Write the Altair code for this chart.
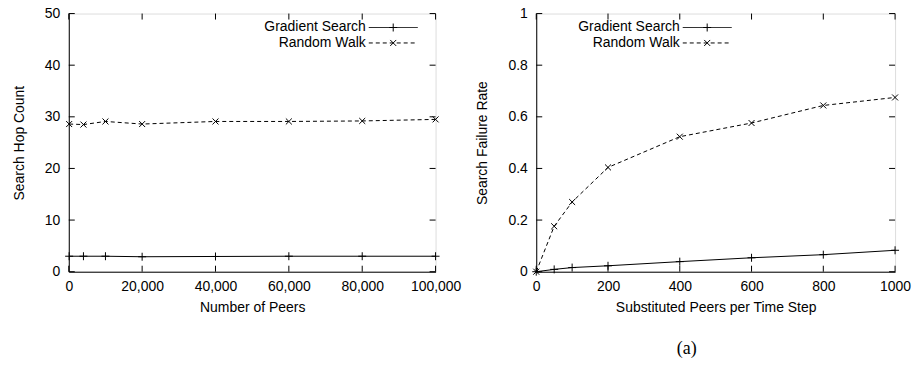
import altair as alt
import pandas as pd

# ---- data ----
peers = [100, 4000, 10000, 20000, 40000, 60000, 80000, 100000]
hops_gradient = [3.0, 3.0, 3.0, 2.9, 2.95, 3.0, 3.0, 3.0]
hops_random = [28.6, 28.5, 29.1, 28.6, 29.1, 29.1, 29.2, 29.5]

subst = [0, 50, 100, 200, 400, 600, 800, 1000]
fail_gradient = [0.0, 0.009, 0.016, 0.023, 0.039, 0.054, 0.066, 0.083]
fail_random = [0.0, 0.176, 0.27, 0.404, 0.523, 0.576, 0.644, 0.675]

left_xticks = [0, 20000, 40000, 60000, 80000, 100000]
left_yticks = [0, 10, 20, 30, 40, 50]
right_xticks = [0, 200, 400, 600, 800, 1000]
right_yticks = [0, 0.2, 0.4, 0.6, 0.8, 1.0]

series = ["Gradient Search", "Random Walk"]

FONT = "Liberation Sans"
FS = 14
W1, W2, H = 368, 360, 259
TICK = 6
PLUS = "M-1,0L1,0M0,-1L0,1"
XMARK = "M-1,-1L1,1M-1,1L1,-1"


def panel(xs, g, r, xticks, yticks, xname, yname, xtitle, ytitle, xfmt, yfmt,
          xdom, ydom, W, leg_right):
    df = pd.DataFrame({xname: xs * 2, yname: g + r,
                       "series": [series[0]] * len(xs) + [series[1]] * len(xs)})
    xs_ = alt.Scale(domain=xdom, nice=False, zero=False)
    ys_ = alt.Scale(domain=ydom, nice=False, zero=False)
    xax = alt.Axis(title=xtitle, values=xticks, format=xfmt, ticks=False, tickSize=0,
                   grid=False, labelFont=FONT, labelFontSize=FS, labelColor="black",
                   titleFont=FONT, titleFontSize=FS, titleFontWeight="normal",
                   titleColor="black", labelPadding=8, titlePadding=7,
                   domainColor="black", labelFlush=False)
    yax = alt.Axis(title=ytitle, values=yticks, format=yfmt, ticks=False, tickSize=0,
                   grid=False, labelFont=FONT, labelFontSize=FS, labelColor="black",
                   titleFont=FONT, titleFontSize=FS, titleFontWeight="normal",
                   titleColor="black", labelPadding=9, titlePadding=18,
                   domainColor="black", labelFlush=False)

    gdf = df[df.series == series[0]]
    rdf = df[df.series == series[1]]

    gline = alt.Chart(gdf).mark_line(color="black", strokeWidth=1).encode(
        x=alt.X(f"{xname}:Q", scale=xs_, axis=xax),
        y=alt.Y(f"{yname}:Q", scale=ys_, axis=yax))
    gpts = alt.Chart(gdf).mark_point(shape=PLUS, size=64, color="black",
                                     strokeWidth=1, filled=False, opacity=1).encode(
        x=alt.X(f"{xname}:Q", scale=xs_), y=alt.Y(f"{yname}:Q", scale=ys_))
    rline = alt.Chart(rdf).mark_line(color="black", strokeWidth=1,
                                     strokeDash=[4, 3]).encode(
        x=alt.X(f"{xname}:Q", scale=xs_), y=alt.Y(f"{yname}:Q", scale=ys_))
    rpts = alt.Chart(rdf).mark_point(shape=XMARK, size=36, color="black",
                                     strokeWidth=1, filled=False, opacity=1).encode(
        x=alt.X(f"{xname}:Q", scale=xs_), y=alt.Y(f"{yname}:Q", scale=ys_))

    # inward ticks (gnuplot style), on all four sides
    xt = pd.DataFrame({xname: xticks})
    yt = pd.DataFrame({yname: yticks})
    xb = alt.Chart(xt).mark_rule(color="black", strokeWidth=1).encode(
        x=alt.X(f"{xname}:Q", scale=xs_), y=alt.value(H), y2=alt.value(H - TICK))
    xtp = alt.Chart(xt).mark_rule(color="black", strokeWidth=1).encode(
        x=alt.X(f"{xname}:Q", scale=xs_), y=alt.value(0), y2=alt.value(TICK))
    yl = alt.Chart(yt).mark_rule(color="black", strokeWidth=1).encode(
        y=alt.Y(f"{yname}:Q", scale=ys_), x=alt.value(0), x2=alt.value(TICK))
    yr = alt.Chart(yt).mark_rule(color="black", strokeWidth=1).encode(
        y=alt.Y(f"{yname}:Q", scale=ys_), x=alt.value(W - TICK), x2=alt.value(W))

    # legend (gnuplot style: label left of sample)
    lx_text = leg_right
    lx0, lx1 = leg_right + 3, leg_right + 52
    rows = []
    for i, (name, dash, shp, sz) in enumerate(
            [(series[0], [1, 0], PLUS, 64), (series[1], [4, 3], XMARK, 36)]):
        yy = 14 + 15.5 * i
        ldf = pd.DataFrame({"label": [name]})
        rows.append(alt.Chart(ldf).mark_text(align="right", baseline="middle",
                                             font=FONT, fontSize=FS, color="black").encode(
            text="label:N", x=alt.value(lx_text), y=alt.value(yy)))
        rows.append(alt.Chart(ldf).mark_rule(color="black", strokeWidth=1,
                                             strokeDash=dash).encode(
            x=alt.value(lx0), x2=alt.value(lx1), y=alt.value(yy)))
        rows.append(alt.Chart(ldf).mark_point(shape=shp, size=sz, color="black",
                                              strokeWidth=1, filled=False,
                                              opacity=1).encode(
            x=alt.value((lx0 + lx1) / 2), y=alt.value(yy)))

    return alt.layer(gline, gpts, rline, rpts, xb, xtp, yl, yr, *rows).properties(
        width=W, height=H)


left = panel(peers, hops_gradient, hops_random, left_xticks, left_yticks,
             "peers", "hops", "Number of Peers", "Search Hop Count", ",d", "d",
             [0, 100000], [0, 50], W1, 298)
right = panel(subst, fail_gradient, fail_random, right_xticks, right_yticks,
              "subst", "rate", "Substituted Peers per Time Step", "Search Failure Rate",
              "d", "~g", [0, 1000], [0, 1], W2, 144)

caption = alt.Chart(pd.DataFrame({"t": ["(a)"]})).mark_text(
    font="Liberation Serif", fontSize=18, color="black", baseline="middle",
    align="center").encode(text="t:N", x=alt.value(151), y=alt.value(337))
right = alt.layer(right, caption)

chart = alt.hconcat(left, right, spacing=101, bounds="flush").configure_view(
    stroke="black", strokeWidth=1).configure(padding={"left": 11, "top": 5, "right": 5, "bottom": 5}
).configure_axis(domainWidth=1)

chart.save("out.html", embed_options={"renderer": "svg", "actions": False})
